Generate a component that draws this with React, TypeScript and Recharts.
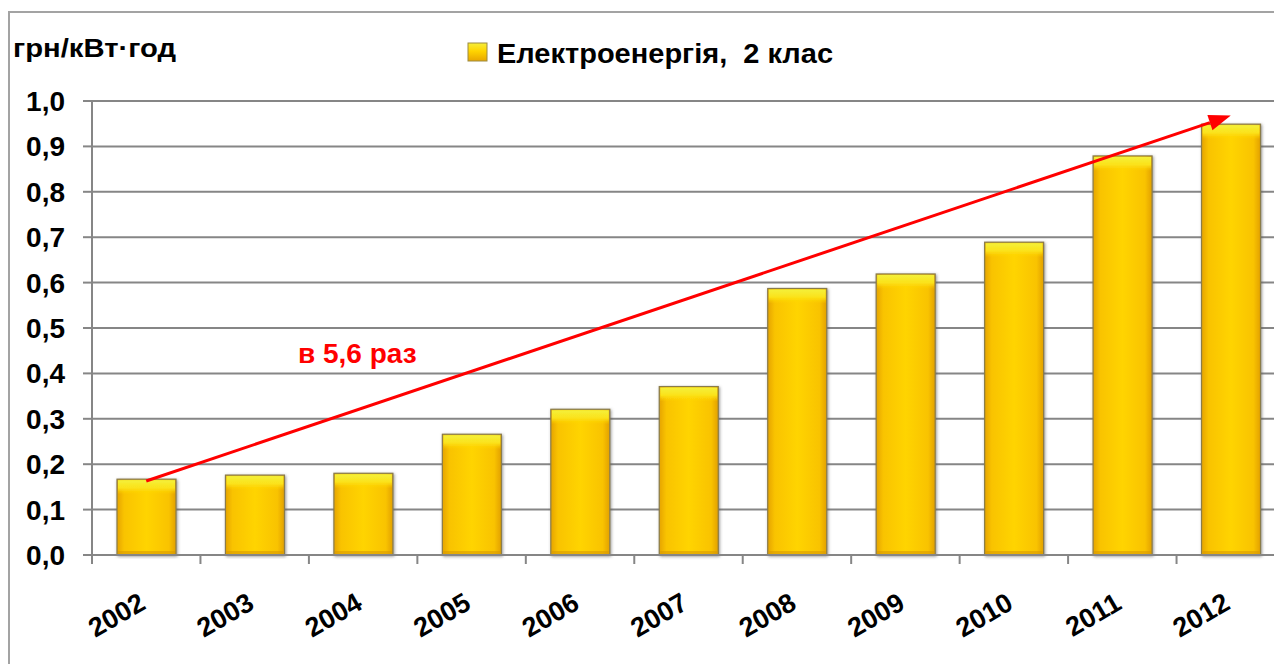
import React from "react";
import {
  Bar,
  BarChart,
  CartesianGrid,
  ReferenceLine,
  XAxis,
  YAxis,
} from "recharts";

// values
const years = ["2002", "2003", "2004", "2005", "2006", "2007", "2008", "2009", "2010", "2011", "2012"];
const prices = [0.167, 0.176, 0.18, 0.266, 0.321, 0.371, 0.587, 0.619, 0.689, 0.879, 0.949];
const yTicks = [0, 0.1, 0.2, 0.3, 0.4, 0.5, 0.6, 0.7, 0.8, 0.9, 1.0];
const seriesName = "Електроенергія,  2 клас";
const unitLabel = "грн/кВт·год";
const growthLabel = "в 5,6 раз";
const arrowStart = { x: "2002", y: 0.163 };
const arrowEnd = { x: "2012", y: 0.968 };

const data = years.map((year, i) => ({ year, price: prices[i] }));

const CHART_W = 1300;
const CHART_H = 664;
const MARGIN = { top: 101, right: 15, bottom: 0, left: 0 };
const Y_AXIS_W = 92;
const plotWidth = CHART_W - MARGIN.left - MARGIN.right - Y_AXIS_W;
const band = plotWidth / years.length;

const GRID = "#868686";
const FONT = "'Liberation Sans', Arial, sans-serif";

function GoldBar(props: any) {
  const { x, y, width, height } = props;
  if (!height || height <= 0) return null;
  return (
    <g filter="url(#barShadow)">
      <rect x={x} y={y} width={width} height={height} fill="url(#barBody)" stroke="#8a7c4a" strokeWidth={1.2} />
      <rect x={x + 1} y={y + 1} width={width - 2} height={Math.min(14, height - 2)} fill="url(#barTop)" />
      <rect x={x + 1} y={y + height - 4} width={width - 2} height={3} fill="#d99a00" opacity={0.6} />
    </g>
  );
}

function YearTick(props: any) {
  const { x, y, payload } = props;
  const bx = x - band / 2;
  return (
    <g>
      <line x1={bx} y1={y} x2={bx} y2={y + 9} stroke={GRID} strokeWidth={2} />
      <text
        transform={`translate(${x + 1},${y + 53}) rotate(-30)`}
        textAnchor="end"
        fontFamily={FONT}
        fontWeight="bold"
        fontSize={27}
        fill="#000"
      >
        {payload.value}
      </text>
    </g>
  );
}

function GrowthArrow(props: any) {
  const { x1, y1, x2, y2 } = props;
  if ([x1, y1, x2, y2].some((v) => typeof v !== "number" || isNaN(v))) return null;
  const ang = Math.atan2(y2 - y1, x2 - x1);
  const len = 22;
  const half = 8;
  const cos = Math.cos(ang);
  const sin = Math.sin(ang);
  const bx = x2 - len * cos;
  const by = y2 - len * sin;
  return (
    <g>
      <line x1={x1} y1={y1} x2={bx} y2={by} stroke="#ff0000" strokeWidth={3} />
      <polygon
        points={`${x2},${y2} ${bx + half * sin},${by - half * cos} ${bx - half * sin},${by + half * cos}`}
        fill="#ff0000"
      />
    </g>
  );
}

export default function App() {
  return (
    <div style={{ position: "relative", width: 1274, height: 664, overflow: "hidden", background: "#fff" }}>
      <style>{"body{margin:0;overflow:hidden;}"}</style>
      <div
        style={{
          position: "absolute",
          left: 8,
          top: 11,
          width: 1400,
          height: 800,
          borderLeft: "2px solid #a3a3a3",
          borderTop: "2px solid #a3a3a3",
        }}
      />
      <div style={{ position: "absolute", left: 0, top: 0 }}>
        <BarChart width={CHART_W} height={CHART_H} data={data} margin={MARGIN} barSize={59}>
          <defs>
            <linearGradient id="barBody" x1="0" y1="0" x2="1" y2="0">
              <stop offset="0%" stopColor="#e6a400" />
              <stop offset="12%" stopColor="#f9c300" />
              <stop offset="50%" stopColor="#ffd400" />
              <stop offset="88%" stopColor="#f9c300" />
              <stop offset="100%" stopColor="#e2a000" />
            </linearGradient>
            <linearGradient id="barTop" x1="0" y1="0" x2="0" y2="1">
              <stop offset="0%" stopColor="#f4f03a" />
              <stop offset="55%" stopColor="#fbe21a" />
              <stop offset="100%" stopColor="#ffd400" stopOpacity={0} />
            </linearGradient>
            <filter id="barShadow" x="-20%" y="-5%" width="140%" height="110%">
              <feDropShadow dx="1" dy="1" stdDeviation="1.5" floodColor="#555" floodOpacity="0.6" />
            </filter>
          </defs>
          <CartesianGrid vertical={false} stroke={GRID} strokeWidth={2} />
          <XAxis
            dataKey="year"
            interval={0}
            height={109}
            tickSize={0}
            tickMargin={0}
            tickLine={false}
            axisLine={{ stroke: GRID, strokeWidth: 2 }}
            tick={<YearTick />}
          />
          <YAxis
            width={Y_AXIS_W}
            domain={[0, 1]}
            ticks={yTicks}
            interval={0}
            tickSize={9}
            tickMargin={18}
            tickLine={{ stroke: GRID, strokeWidth: 2 }}
            axisLine={{ stroke: GRID, strokeWidth: 2 }}
            tickFormatter={(v: number) => v.toFixed(1).replace(".", ",")}
            tick={{ fill: "#000", fontSize: 28, fontWeight: "bold", fontFamily: FONT }}
          />
          <Bar dataKey="price" name={seriesName} shape={<GoldBar />} isAnimationActive={false} />
          <ReferenceLine
            segment={[arrowStart, arrowEnd]}
            ifOverflow="visible"
            shape={(p: any) => <GrowthArrow {...p} />}
          />
        </BarChart>
      </div>
      <svg
        width={1274}
        height={664}
        style={{ position: "absolute", left: 0, top: 0, pointerEvents: "none" }}
      >
        <defs>
          <linearGradient id="legendBox" x1="0" y1="0" x2="0" y2="1">
            <stop offset="0%" stopColor="#f6ee3a" />
            <stop offset="45%" stopColor="#ffd400" />
            <stop offset="100%" stopColor="#e8a600" />
          </linearGradient>
        </defs>
        <text
          x={13}
          y={57}
          fontFamily={FONT}
          fontWeight="bold"
          fontSize={25}
          fill="#000"
          textLength={163}
          lengthAdjust="spacingAndGlyphs"
        >
          {unitLabel}
        </text>
        <rect x={468} y={43} width={19} height={18} fill="url(#legendBox)" stroke="#9c8a40" strokeWidth={1} />
        <text
          x={497}
          y={63}
          fontFamily={FONT}
          fontWeight="bold"
          fontSize={28}
          fill="#000"
          textLength={336}
          lengthAdjust="spacingAndGlyphs"
          style={{ whiteSpace: "pre" }}
        >
          {seriesName}
        </text>
        <text x={298} y={363} fontFamily={FONT} fontWeight="bold" fontSize={28} fill="#ff0000">
          {growthLabel}
        </text>
      </svg>
    </div>
  );
}
